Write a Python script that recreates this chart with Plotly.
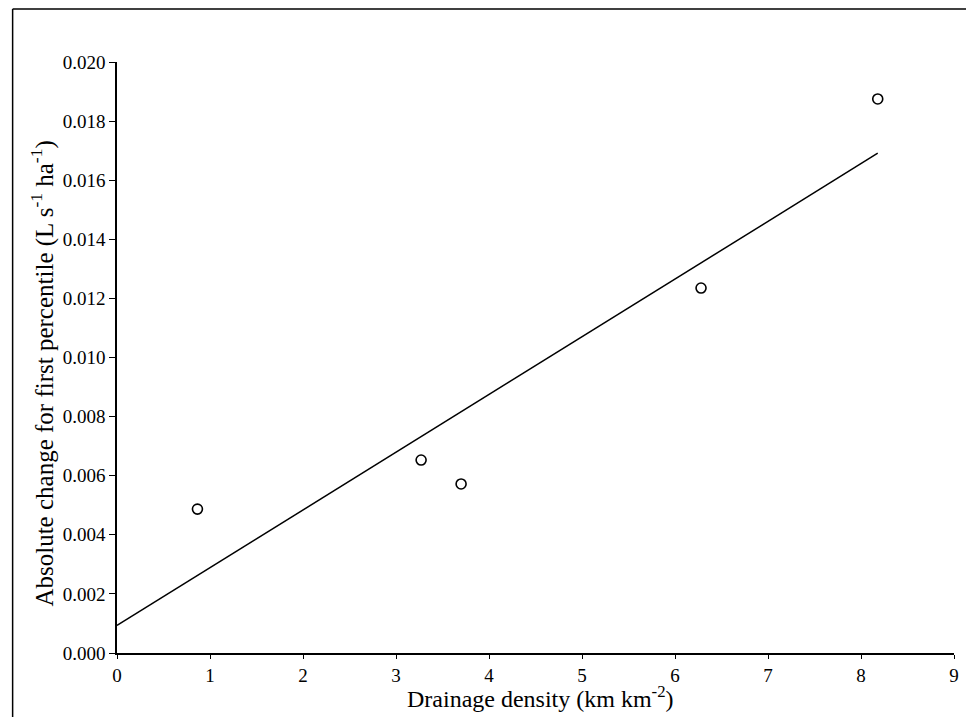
import numpy as np
import plotly.graph_objects as go

# Drainage density (km km^-2) and absolute change for first percentile (L s^-1 ha^-1)
density = [0.865, 3.27, 3.70, 6.28, 8.18]
change = [0.00487, 0.00653, 0.00572, 0.01235, 0.01875]

x_ticks = [0, 1, 2, 3, 4, 5, 6, 7, 8, 9]
y_ticks = [0.000, 0.002, 0.004, 0.006, 0.008, 0.010, 0.012, 0.014, 0.016, 0.018, 0.020]

# Least-squares fit drawn from x = 0 to the largest observed density
slope, intercept = np.polyfit(density, change, 1)
fit_x = [0, max(density)]
fit_y = [intercept + slope * v for v in fit_x]

font_family = "Liberation Serif, Times New Roman, serif"

fig = go.Figure()
fig.add_trace(go.Scatter(
    x=fit_x, y=fit_y, mode="lines",
    line=dict(color="black", width=1.5),
    showlegend=False, hoverinfo="skip",
))
fig.add_trace(go.Scatter(
    x=density, y=change, mode="markers",
    marker=dict(symbol="circle-open", size=10, color="black", line=dict(width=1.6)),
    showlegend=False,
))

fig.update_xaxes(
    range=[0, 9], tickvals=x_ticks, ticktext=[str(v) for v in x_ticks],
    showline=True, linecolor="black", linewidth=1.5,
    ticks="outside", ticklen=4, tickcolor="black", tickwidth=1.2,
    showgrid=False, zeroline=False,
    tickfont=dict(family=font_family, size=19, color="black"),
)
fig.update_yaxes(
    range=[0, 0.020], tickvals=y_ticks, ticktext=[f"{v:.3f}" for v in y_ticks],
    showline=True, linecolor="black", linewidth=1.5,
    ticks="outside", ticklen=6, tickcolor="black", tickwidth=1.2,
    showgrid=False, zeroline=False,
    tickfont=dict(family=font_family, size=19, color="black"),
)

# Axis titles
fig.add_annotation(
    text="Drainage density (km km<sup>-2</sup>)",
    xref="paper", yref="paper", x=0.506, y=-0.0745,
    xanchor="center", yanchor="middle", showarrow=False,
    font=dict(family=font_family, size=24, color="black"),
)
fig.add_annotation(
    text="Absolute change for first percentile (L s<sup>-1</sup> ha<sup>-1</sup>)",
    xref="paper", yref="paper", x=-0.089, y=0.472, textangle=-90,
    xanchor="center", yanchor="middle", showarrow=False,
    font=dict(family=font_family, size=25, color="black"),
)

# Frame around the figure (left and top edges visible)
fig.add_shape(type="line", xref="paper", yref="paper",
              x0=-0.1247, x1=1.2, y0=1.0897, y1=1.0897,
              line=dict(color="black", width=1.5))
fig.add_shape(type="line", xref="paper", yref="paper",
              x0=-0.1247, x1=-0.1247, y0=1.0897, y1=-0.2,
              line=dict(color="black", width=1.5))

fig.update_layout(
    width=966, height=717,
    margin=dict(l=117, r=7, t=62, b=64),
    plot_bgcolor="white", paper_bgcolor="white",
    font=dict(family=font_family, color="black"),
)

fig.write_html("out.html")
